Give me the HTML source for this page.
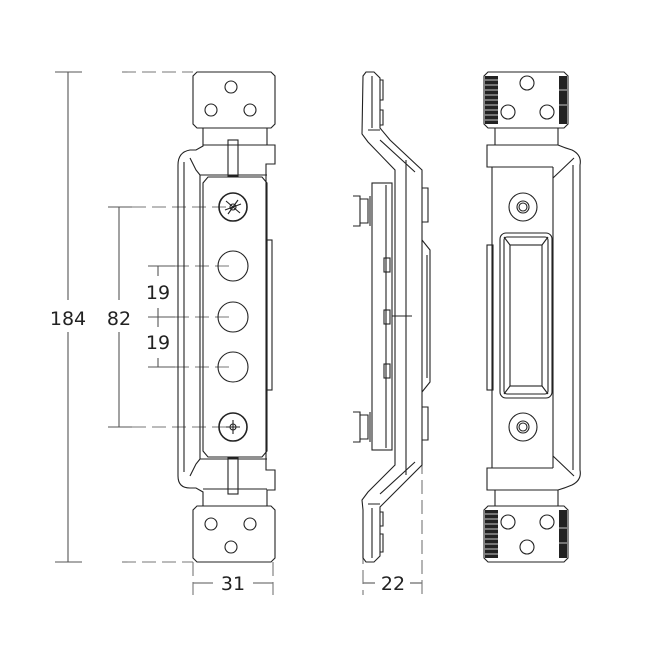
<!DOCTYPE html>
<html><head><meta charset="utf-8"><style>body{margin:0;background:#fff}svg{display:block}</style></head><body>
<svg width="650" height="650" viewBox="0 0 650 650" xmlns="http://www.w3.org/2000/svg" fill="none" stroke="#222" stroke-width="1.1" font-family="DejaVu Sans, Liberation Sans, sans-serif">
<!-- dimension lines -->
<g stroke="#555">
<line x1="55" y1="72" x2="82" y2="72"/><line x1="55" y1="562" x2="82" y2="562"/>
<line x1="68" y1="72" x2="68" y2="300"/><line x1="68" y1="332" x2="68" y2="562"/>
<line x1="108" y1="207" x2="132" y2="207"/><line x1="108" y1="427" x2="132" y2="427"/>
<line x1="119" y1="207" x2="119" y2="300"/><line x1="119" y1="332" x2="119" y2="427"/>
<line x1="148" y1="266" x2="175" y2="266"/><line x1="148" y1="317" x2="175" y2="317"/><line x1="148" y1="367" x2="175" y2="367"/>
<line x1="158" y1="266" x2="158" y2="276"/><line x1="158" y1="308" x2="158" y2="327"/><line x1="158" y1="358" x2="158" y2="367"/>
<line x1="193" y1="583" x2="213" y2="583"/><line x1="253" y1="583" x2="273" y2="583"/>
<line x1="363" y1="583" x2="375" y2="583"/><line x1="410" y1="583" x2="422" y2="583"/>
</g>
<g stroke="#777" stroke-dasharray="14,6">
<line x1="122" y1="72" x2="193" y2="72"/><line x1="122" y1="562" x2="193" y2="562"/>
<line x1="132" y1="207" x2="233" y2="207"/><line x1="132" y1="427" x2="233" y2="427"/>
<line x1="175" y1="266" x2="233" y2="266"/><line x1="175" y1="317" x2="233" y2="317"/><line x1="175" y1="367" x2="233" y2="367"/>
<line x1="193" y1="562" x2="193" y2="595"/><line x1="273" y1="562" x2="273" y2="595"/>
<line x1="363" y1="550" x2="363" y2="595"/><line x1="422" y1="460" x2="422" y2="595"/>
</g>
<g fill="#222" stroke="none" font-size="19" text-anchor="middle">
<text x="68" y="325">184</text><text x="119" y="325">82</text>
<text x="158" y="299">19</text><text x="158" y="349">19</text>
<text x="233" y="590">31</text><text x="393" y="590">22</text>
</g>

<!-- LEFT VIEW -->
<g>
<path d="M197 72 H271 L275 76 V124 L271 128 H197 L193 124 V76 Z"/>
<path d="M197 562 H271 L275 558 V510 L271 506 H197 L193 510 V558 Z"/>
<circle cx="231" cy="87" r="6"/><circle cx="211" cy="110" r="6"/><circle cx="250" cy="110" r="6"/>
<circle cx="231" cy="547" r="6"/><circle cx="211" cy="524" r="6"/><circle cx="250" cy="524" r="6"/>
<path d="M203 128 V146 L196 150 H190 Q178 152 178 165 V476 Q178 488 190 488 H196 L203 492 V506"/>
<path d="M267 128 V145 H275 V164 H266 V470 H275 V490 H267 V506"/>
<line x1="203" y1="145" x2="267" y2="145"/><line x1="203" y1="489" x2="267" y2="489"/>
<path d="M190 158 L196 170 L200 175 V459 L196 464 L190 476"/>
<line x1="184" y1="162" x2="184" y2="472"/>
<path d="M208 177 H262 L267 183 V451 L262 457 H208 L203 451 V183 Z"/>
<line x1="200" y1="175" x2="267" y2="175"/><line x1="200" y1="459" x2="267" y2="459"/>
<rect x="228" y="140" width="10" height="36"/><rect x="228" y="458" width="10" height="36"/>
<rect x="267" y="240" width="5" height="150"/>
<circle cx="233" cy="207" r="14" stroke-width="1.6"/><circle cx="233" cy="427" r="14" stroke-width="1.6"/>
<circle cx="233" cy="207" r="3"/><circle cx="233" cy="427" r="3"/>
<path d="M226 201 L240 213 M238 200 L228 214 M225 210 L241 204 M226 427 H240 M233 420 V434"/>
<circle cx="233" cy="266" r="15"/><circle cx="233" cy="317" r="15"/><circle cx="233" cy="367" r="15"/>
</g>

<!-- MIDDLE VIEW -->
<g>
<path d="M366 72 H374 L380 78 V128 L390 140 L422 170 V465 L392 495 L380 507 V556 L374 562 H366 L363 558 V510 L362 500 L368 492 L395 465 V170 L368 142 L362 134 L363 76 Z"/>
<path d="M368 130 H380 M368 504 H380 M372 76 V128 M372 508 V558"/>
<path d="M380 80 H383 V100 H380 M380 110 H383 V125 H380 M380 512 H383 V526 H380 M380 534 H383 V552 H380"/>
<path d="M380 140 L415 172 M380 494 L415 462 M406 160 V475"/>
<rect x="372" y="183" width="20" height="267"/>
<line x1="386" y1="185" x2="386" y2="448"/>
<path d="M353 196 L360 196 V226 L353 226 M360 199 H368 V223 H360 M370 196 V226"/>
<path d="M353 412 L360 412 V442 L353 442 M360 415 H368 V439 H360 M370 412 V442"/>
<rect x="384" y="258" width="6" height="14"/><rect x="384" y="310" width="6" height="14"/><rect x="384" y="364" width="6" height="14"/>
<line x1="392" y1="316" x2="412" y2="316"/>
<path d="M422 188 H428 V222 H422 M422 407 H428 V440 H422"/>
<path d="M422 240 L430 250 V382 L422 392 M427 255 V378"/>
</g>

<!-- RIGHT VIEW -->
<g>
<path d="M488 72 H564 L568 76 V124 L564 128 H488 L484 124 V76 Z"/>
<path d="M488 562 H564 L568 558 V510 L564 506 H488 L484 510 V558 Z"/>
<rect x="485" y="76" width="13" height="48" fill="#222" stroke="none"/>
<rect x="559" y="76" width="8" height="48" fill="#222" stroke="none"/>
<rect x="485" y="510" width="13" height="48" fill="#222" stroke="none"/>
<rect x="559" y="510" width="8" height="48" fill="#222" stroke="none"/>
<g stroke="#fff" stroke-width="0.8"><path d="M485 80 H498 M485 85 H498 M485 90 H498 M485 95 H498 M485 100 H498 M485 105 H498 M485 110 H498 M485 115 H498 M485 120 H498 M559 90 H567 M559 105 H567 M485 514 H498 M485 519 H498 M485 524 H498 M485 529 H498 M485 534 H498 M485 539 H498 M485 544 H498 M485 549 H498 M485 554 H498 M559 528 H567 M559 543 H567"/></g>
<circle cx="527" cy="83" r="7"/><circle cx="508" cy="112" r="7"/><circle cx="547" cy="112" r="7"/>
<circle cx="527" cy="547" r="7"/><circle cx="508" cy="522" r="7"/><circle cx="547" cy="522" r="7"/>
<path d="M495 128 V145 H487 V167 H492 V468 H487 V490 H495 V506"/>
<path d="M558 128 V145 Q565 148 572 150 Q582 155 580 165 V470 Q582 480 572 485 Q565 488 558 490 V506"/>
<line x1="495" y1="145" x2="558" y2="145"/><line x1="495" y1="490" x2="558" y2="490"/>
<line x1="492" y1="167" x2="553" y2="167"/><line x1="492" y1="468" x2="553" y2="468"/>
<line x1="553" y1="167" x2="553" y2="468"/>
<path d="M553 178 L574 158 M553 456 L574 476 M573 165 V470"/>
<rect x="487" y="245" width="6" height="145"/>
<circle cx="523" cy="207" r="14"/><circle cx="523" cy="207" r="6"/><circle cx="523" cy="207" r="4"/>
<circle cx="523" cy="427" r="14"/><circle cx="523" cy="427" r="6"/><circle cx="523" cy="427" r="4"/>
<rect x="500" y="233" width="52" height="165" rx="6"/>
<rect x="504" y="237" width="44" height="157" rx="3"/>
<rect x="510" y="245" width="32" height="141"/>
<path d="M504 237 L510 245 M548 237 L542 245 M504 394 L510 386 M548 394 L542 386"/>
</g>
</svg>
</body></html>
